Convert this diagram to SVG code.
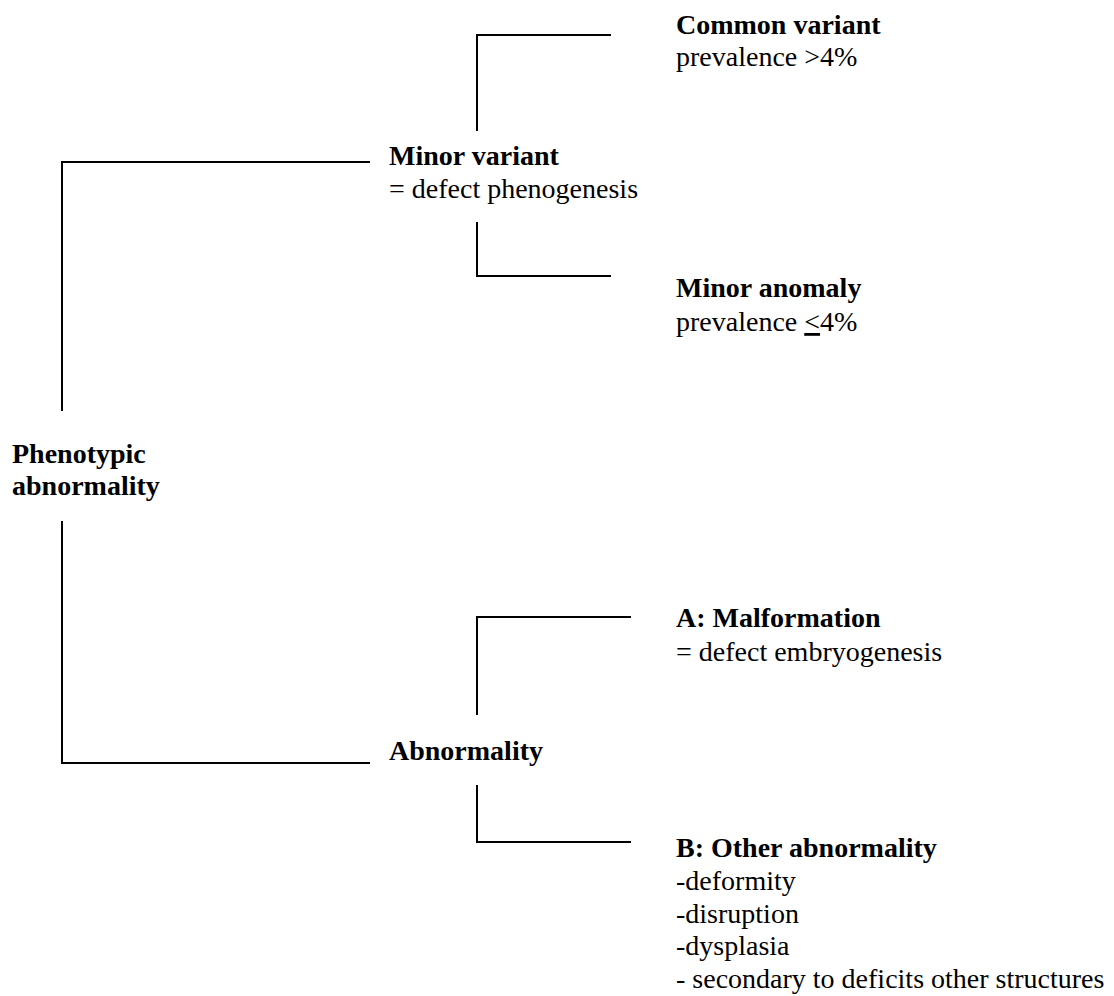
<svg xmlns="http://www.w3.org/2000/svg" width="1114" height="996" viewBox="0 0 1114 996">
<style>
text{font-family:'Liberation Serif','Times New Roman',Times,'DejaVu Serif',serif;font-size:28px;fill:#000}
.b{font-weight:bold}
.c{stroke:#000;stroke-width:2;fill:none}
</style>
<rect width="1114" height="996" fill="#fff"/>
<g id="connectors">
<polyline class="c" points="62,411 62,162 370,162"/>
<polyline class="c" points="62,521 62,763 370,763"/>
<polyline class="c" points="477,131 477,35 611,35"/>
<polyline class="c" points="477,222 477,276 611,276"/>
<polyline class="c" points="477,715 477,617 631,617"/>
<polyline class="c" points="477,785 477,842 631,842"/>
</g>
<g id="root"><text class="b" x="12" y="463">Phenotypic</text><text class="b" x="12" y="495">abnormality</text></g>
<g id="minor-variant"><text class="b" x="389" y="165">Minor variant</text><text x="389" y="198">= defect phenogenesis</text></g>
<g id="common-variant"><text class="b" x="676" y="34">Common variant</text><text x="676" y="66">prevalence &gt;4%</text></g>
<g id="minor-anomaly"><text class="b" x="676" y="297">Minor anomaly</text><text x="676" y="331">prevalence <tspan text-decoration="underline">&lt;</tspan>4%</text></g>
<g id="abnormality"><text class="b" x="389" y="760">Abnormality</text></g>
<g id="malformation"><text class="b" x="676" y="627">A: Malformation</text><text x="676" y="661">= defect embryogenesis</text></g>
<g id="other"><text class="b" x="676" y="857">B: Other abnormality</text><text x="676" y="890">-deformity</text><text x="676" y="923">-disruption</text><text x="676" y="955">-dysplasia</text><text x="676" y="988">- secondary to deficits other structures</text></g>
</svg>
